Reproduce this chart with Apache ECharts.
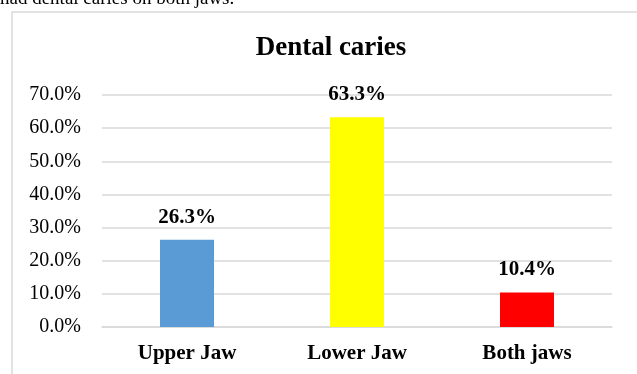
<!DOCTYPE html>
<html>
<head>
<meta charset="utf-8">
<script src="https://cdn.jsdelivr.net/npm/echarts@6/dist/echarts.min.js"></script>
<style>
  html, body { margin: 0; padding: 0; background: #fff; }
  #mychart { width: 637px; height: 374px; }
</style>
</head>
<body>
<div id="mychart"></div>
<script>
// data
const categories = ['Upper Jaw', 'Lower Jaw', 'Both jaws']
const values = [26.3, 63.3, 10.4]
const barColors = ['#5b9bd5', '#ffff00', '#ff0000']
const yTicks = [0, 10, 20, 30, 40, 50, 60, 70]

const serif = '"Liberation Serif", "DejaVu Serif", serif'

let mychart = echarts.init(document.getElementById('mychart'))
mychart.setOption({
  animation: false,
  textStyle: { fontFamily: serif },
  title: {
    text: 'Dental caries',
    left: 326,
    textAlign: 'center',
    top: 30,
    textStyle: { fontFamily: serif, fontSize: 27, fontWeight: 'bold', color: '#000' }
  },
  graphic: [
    {
      // chart frame
      type: 'rect',
      shape: { x: 12, y: 12, width: 640, height: 400 },
      style: { fill: null, stroke: '#d9d9d9', lineWidth: 1.5 },
      silent: true
    },
    {
      // cut-off line of text above the chart
      type: 'text',
      left: 0,
      top: -10,
      style: { text: 'had dental caries on both jaws.', font: '19px ' + serif, fill: '#000' },
      silent: true
    }
  ],
  grid: { left: 102, right: 25, top: 95, bottom: 47, containLabel: false },
  xAxis: {
    type: 'category',
    data: categories,
    axisTick: { show: false },
    axisLine: { lineStyle: { color: '#d9d9d9', width: 1.5 } },
    axisLabel: { margin: 16, fontSize: 21, fontWeight: 'bold', color: '#000', fontFamily: serif }
  },
  yAxis: {
    type: 'value',
    min: yTicks[0],
    max: yTicks[yTicks.length - 1],
    interval: 10,
    axisLine: { show: false },
    axisTick: { show: false },
    axisLabel: {
      margin: 21,
      fontSize: 20,
      color: '#000',
      fontFamily: serif,
      formatter: v => v.toFixed(1) + '%'
    },
    splitLine: { lineStyle: { color: '#d9d9d9', width: 1.5 } }
  },
  series: [
    {
      type: 'bar',
      barWidth: 54,
      data: values.map((v, i) => ({ value: v, itemStyle: { color: barColors[i] } })),
      label: {
        show: true,
        position: 'top',
        distance: 12,
        fontSize: 21,
        fontWeight: 'bold',
        color: '#000',
        fontFamily: serif,
        formatter: p => p.value.toFixed(1) + '%'
      }
    }
  ]
})
</script>
</body>
</html>
